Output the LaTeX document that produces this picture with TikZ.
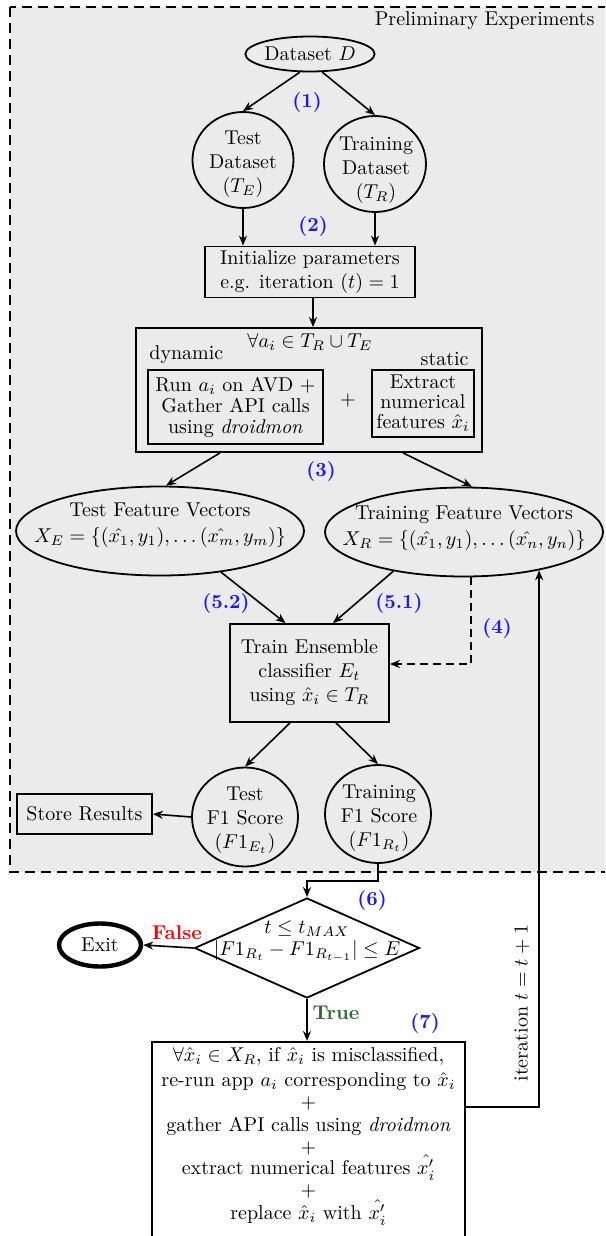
\documentclass[tikz,border=0pt]{standalone}
\usepackage{amsmath,amssymb}
\usetikzlibrary{shapes.geometric,arrows.meta,calc}
\definecolor{bggray}{RGB}{235,235,235}
\definecolor{stepblue}{RGB}{25,25,255}
\definecolor{truegreen}{RGB}{45,110,45}
\begin{document}
\begin{tikzpicture}[x=0.5pt,y=-0.5pt,
  every node/.style={inner sep=2pt},
  conn/.style={-{Stealth[length=5pt,width=4pt]}, line width=0.8pt},
  shp/.style={draw, line width=0.9pt},
  innerbox/.style={draw, line width=1.3pt, align=center, inner sep=1pt},
  ell/.style={shp, ellipse, inner sep=0pt, align=center},
  steplbl/.style={text=stepblue, font=\bfseries}]
\useasboundingbox (0,0) rectangle (605,1236);
\clip (0,0) rectangle (605,1236);
% group frame
\draw[fill=bggray, line width=1pt, dash pattern=on 5pt off 3pt] (10,7) rectangle (660,872);
\node[anchor=east] (title) at (599,21) {Preliminary Experiments};

% nodes
\node[ell, minimum width=62pt, minimum height=17.5pt] (D) at (310,54) {Dataset $D$};
\node[ell, minimum width=50.5pt, minimum height=48pt] (te) at (243,160) {};
\node[align=center] (tetext) at (243,164) {Test\\Dataset\\$(T_E)$};
\node[ell, minimum width=51pt, minimum height=48pt] (tr) at (375,164) {};
\node[align=center] (trtext) at (376,170) {Training\\Dataset\\$(T_R)$};
\node[shp, minimum width=105pt, minimum height=25.5pt, align=center] (init) at (310,272) {Initialize parameters\\e.g. iteration $(t)=1$};

\node[shp, minimum width=173pt, minimum height=62pt] (big) at (309,390) {};
\node (forall) at (310,342) {$\forall a_i \in T_R \cup T_E$};
\node[anchor=west] (dynlbl) at (145,355) {dynamic};
\node[anchor=east] (statlbl) at (473,359) {static};
\node[innerbox, minimum width=87.5pt, minimum height=37pt] (dyn) at (235.5,407) {Run $a_i$ on AVD $+$\\[-1.5pt]Gather API calls\\[-1.5pt]using \textit{droidmon}};
\node (plus) at (348,400) {$+$};
\node[innerbox, minimum width=51pt, minimum height=33.5pt] (stat) at (423,403.5) {Extract\\[-2pt]numerical\\[-2pt]features $\hat{x}_i$};

\node[ell, minimum width=144pt, minimum height=44.5pt] (tefv) at (160,531) {};
\node[align=center] (tefvtext) at (160,525) {Test Feature Vectors\\[1pt]$X_E=\{(\hat{x_1},y_1),\dots(\hat{x_m},y_m)\}$};
\node[ell, minimum width=139pt, minimum height=44.5pt] (trfv) at (464,532) {};
\node[align=center] (trfvtext) at (464,528) {Training Feature Vectors\\[1pt]$X_R=\{(\hat{x_1},y_1),\dots(\hat{x_n},y_n)\}$};

\node[shp, minimum width=79.5pt, minimum height=49pt, align=center] (train) at (309.5,673) {Train Ensemble\\classifier $E_t$\\using $\hat{x}_i\in T_R$};

\node[ell, minimum width=53pt, minimum height=49.5pt] (tef1) at (245,817) {};
\node[align=center] (tef1text) at (245,820) {Test\\F1 Score\\$(F1_{E_t})$};
\node[ell, minimum width=53pt, minimum height=49pt] (trf1) at (378,814) {};
\node[align=center] (trf1text) at (379,818) {Training\\F1 Score\\$(F1_{R_t})$};
\node[shp, minimum width=67.5pt, minimum height=20pt] (store) at (84.5,814) {Store Results};

\node[shp, diamond, minimum width=112.5pt, minimum height=50pt, inner sep=0pt] (dia) at (307,948) {};
\node[align=center] (cond) at (307,941) {$t\le t_{MAX}$\\[-1pt]$|F1_{R_t}-F1_{R_{t-1}}|\le E$};
\node[draw, line width=2.2pt, ellipse, minimum width=41pt, minimum height=21.5pt, inner sep=0pt] (exit) at (100,945) {Exit};

\node[shp, anchor=north, minimum width=156.5pt, minimum height=102pt, align=center] (fix) at (308.5,1041) {};
\node[align=center, anchor=north] (fixtext) at (308.5,1043) {$\forall\hat{x}_i\in X_R$, if $\hat{x}_i$ is misclassified,\\[0.5pt]
re-run app $a_i$ corresponding to $\hat{x}_i$\\[-0.8pt]
$+$\\[-0.8pt]
gather API calls using \textit{droidmon}\\[-0.8pt]
$+$\\[-1.5pt]
extract numerical features $\hat{x_i'}$\\[-1pt]
$+$\\[-0.5pt]
replace $\hat{x}_i$ with $\hat{x_i'}$};

% connectors
\draw[conn] (D.-119) -- (te.north);
\draw[conn] (D.-56) -- (tr.north);
\draw[conn] (te.south) -- (te.south |- init.north);
\draw[conn] (tr.south) -- (tr.south |- init.north);
\draw[conn] ([xshift=1.5pt]init.south) -- ([xshift=1.5pt]init.south |- big.north);
\draw[conn] ([xshift=-44.5pt]big.south) -- ([xshift=3pt]tefv.north);
\draw[conn] ([xshift=47pt]big.south) -- ([xshift=4pt]trfv.north);
\draw[conn] (tefv.-34) -- ([xshift=-12pt]train.north);
\draw[conn] (trfv.-151) -- ([xshift=11.75pt]train.north);
\draw[conn, dash pattern=on 4pt off 2.5pt] ([xshift=3.5pt]trfv.south) |- ([yshift=4.5pt]train.east);
\draw[conn] ([xshift=-9.75pt]train.south) -- (tef1.north);
\draw[conn] ([xshift=13.25pt]train.south) -- (trf1.north);
\draw[conn] (tef1.west) -- (store.east);
\draw[conn] (trf1.south) -- ++(0,17) -| (dia.north);
\draw[conn] (dia.west) -- (exit.east);
\draw[conn] (dia.south) -- (dia.south |- fix.north);
\draw[conn] ([yshift=-33pt]fix.north east) -| (trfv.-27);

% labels
\node[steplbl] (l1) at (307,102) {(1)};
\node[steplbl] (l2) at (313,226) {(2)};
\node[steplbl] (l3) at (321,471) {(3)};
\node[steplbl] (l52) at (226,603) {(5.2)};
\node[steplbl] (l51) at (399,603) {(5.1)};
\node[steplbl] (l4) at (497,628) {(4)};
\node[steplbl] (l6) at (372,900) {(6)};
\node[steplbl] (l7) at (425,1023) {(7)};
\node[text=red, font=\bfseries] (lf) at (177,933) {False};
\node[text=truegreen, font=\bfseries] (lt) at (336,1013) {True};
\node[rotate=90] (iter) at (522,1003) {iteration $t=t+1$};
\end{tikzpicture}
\end{document}
